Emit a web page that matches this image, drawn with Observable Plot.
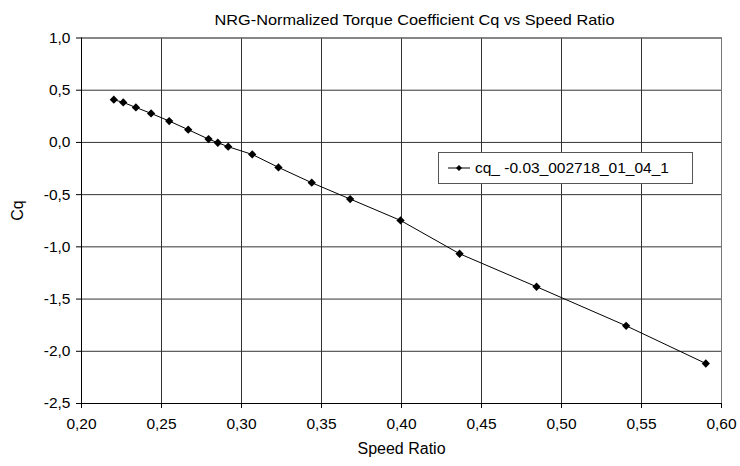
<!DOCTYPE html>
<html>
<head>
<meta charset="utf-8">
<script src="https://cdn.jsdelivr.net/npm/d3@7"></script>
<script src="https://cdn.jsdelivr.net/npm/@observablehq/plot@0.6"></script>
<style>
  html, body { margin: 0; padding: 0; background: #fff; }
  #wrap { position: relative; width: 740px; height: 466px; font-family: "Liberation Sans", Arial, sans-serif; }
  #legend { position: absolute; left: 438px; top: 152px; width: 255px; height: 32px; box-sizing: border-box;
    border: 1px solid #555; background: #fff; display: flex; align-items: center; font-size: 15.5px; color: #000; }
  #legend svg { margin-left: 9px; margin-right: 5px; }
</style>
</head>
<body>
<div id="wrap"></div>
<script>
const title = "NRG-Normalized Torque Coefficient Cq vs Speed Ratio";
const xLabel = "Speed Ratio";
const yLabel = "Cq";
const seriesName = "cq_ -0.03_002718_01_04_1";
const speedRatio = [0.2202, 0.2261, 0.2340, 0.2435, 0.2548, 0.2667, 0.2794, 0.2852, 0.2917, 0.3067, 0.3231, 0.3439, 0.3679, 0.3994, 0.4363, 0.4844, 0.5404, 0.5902];
const cq = [0.409, 0.383, 0.335, 0.278, 0.205, 0.122, 0.032, -0.003, -0.041, -0.115, -0.239, -0.386, -0.542, -0.747, -1.066, -1.382, -1.756, -2.117];
const xTicks = [0.20, 0.25, 0.30, 0.35, 0.40, 0.45, 0.50, 0.55, 0.60];
const yTicks = [1.0, 0.5, 0.0, -0.5, -1.0, -1.5, -2.0, -2.5];

const data = speedRatio.map((x, i) => ({x, y: cq[i]}));
const fmt = (n) => (v) => v.toFixed(n).replace(".", ",");

// square-ish diamond symbol (equal width and height)
const squareDiamond = {
  draw(context, size) {
    const r = Math.sqrt(size / 2);
    context.moveTo(0, -r);
    context.lineTo(r, 0);
    context.lineTo(0, r);
    context.lineTo(-r, 0);
    context.closePath();
  }
};

const chart = Plot.plot({
  width: 740,
  height: 466,
  marginLeft: 81,
  marginRight: 19,
  marginTop: 37.5,
  marginBottom: 63,
  style: {fontFamily: "Liberation Sans, Arial, sans-serif", fontSize: "15.5px", color: "#000", background: "#fff"},
  x: {domain: [0.2, 0.6], ticks: xTicks, tickFormat: fmt(2), label: null},
  y: {domain: [-2.5, 1.0], ticks: yTicks, tickFormat: fmt(1), label: null},
  marks: [
    Plot.gridX(xTicks, {stroke: "#333", strokeOpacity: 1, strokeWidth: 1}),
    Plot.gridY(yTicks, {stroke: "#333", strokeOpacity: 1, strokeWidth: 1}),
    Plot.frame({stroke: "#777"}),
    Plot.axisX({ticks: xTicks, tickFormat: fmt(2), tickSize: 5, tickPadding: 9, fontSize: 15.5, label: null}),
    Plot.axisY({ticks: yTicks, tickFormat: fmt(1), tickSize: 5, tickPadding: 6, fontSize: 15.5, label: null}),
    Plot.ruleX([0.2], {stroke: "#000"}),
    Plot.ruleY([-2.5], {stroke: "#000"}),
    Plot.line(data, {x: "x", y: "y", stroke: "#000", strokeWidth: 1}),
    Plot.dot(data, {x: "x", y: "y", symbol: squareDiamond, r: 3.3, fill: "#000", stroke: "none"}),
    Plot.text([title], {frameAnchor: "top", dy: -24, dx: 13, fontSize: 15, text: d => d, fill: "#000", className: "chart-title"}),
    Plot.text([xLabel], {frameAnchor: "bottom", dy: 50, fontSize: 16, text: d => d, fill: "#000"}),
    Plot.text([yLabel], {frameAnchor: "left", dx: -64, dy: 0, rotate: -90, fontSize: 16, text: d => d, fill: "#000"})
  ]
});

const wrap = document.getElementById("wrap");
wrap.appendChild(chart);

// stretch title to the reference's width
d3.select(chart).selectAll(".chart-title text").attr("textLength", 400).attr("lengthAdjust", "spacingAndGlyphs");

const legend = document.createElement("div");
legend.id = "legend";
legend.innerHTML = `<svg width="22" height="10"><line x1="0" y1="5" x2="22" y2="5" stroke="#000"/><path d="M11,2 L14,5 L11,8 L8,5 Z" fill="#000"/></svg><span>${seriesName}</span>`;
wrap.appendChild(legend);
</script>
</body>
</html>
